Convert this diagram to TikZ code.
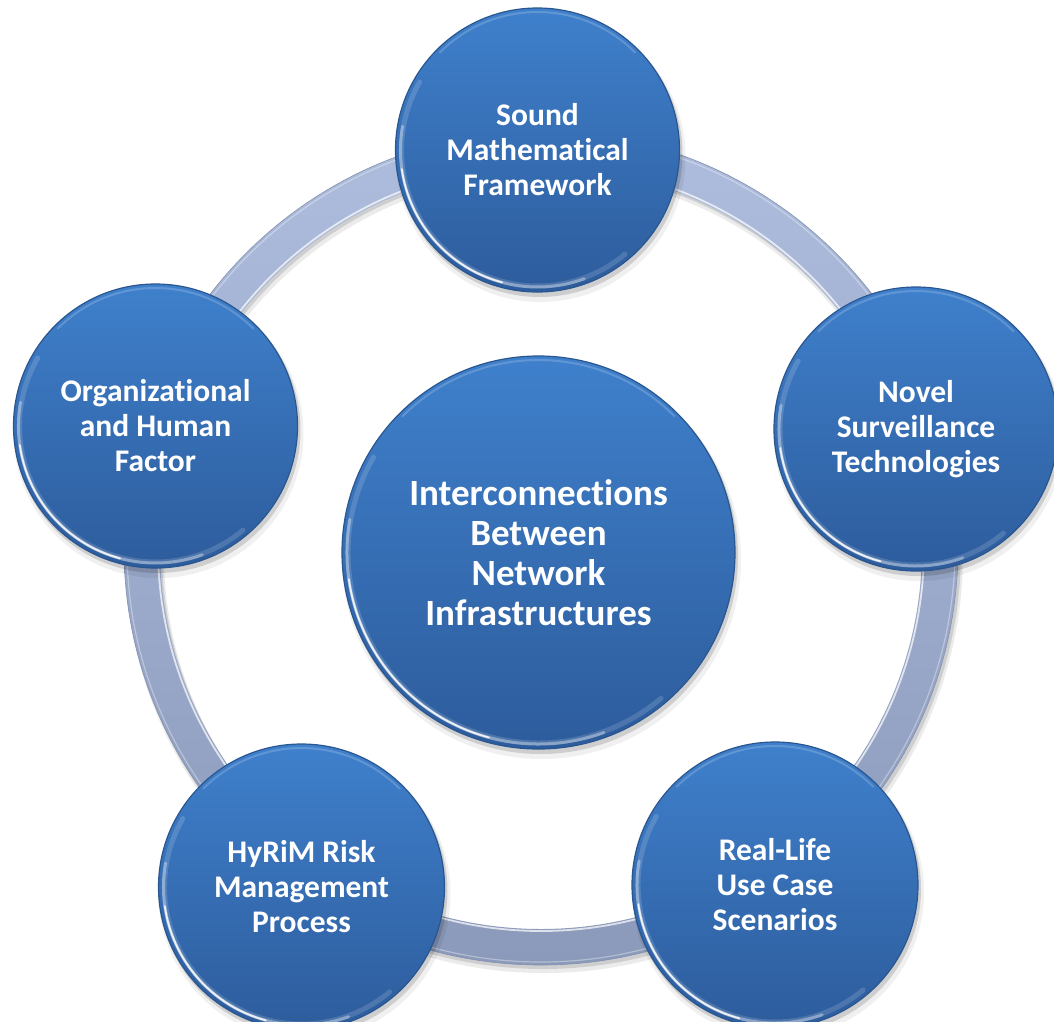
\documentclass[tikz,border=0pt]{standalone}
\usepackage{fontspec}
\setmainfont{Carlito}[Ligatures=NoCommon]
\usetikzlibrary{calc}
\definecolor{cTop}{HTML}{3F80CC}
\definecolor{cBot}{HTML}{2D5C9C}
\definecolor{cEdge}{HTML}{2A5690}
\definecolor{ringTop}{HTML}{AEBDDD}
\definecolor{ringBot}{HTML}{8B9ABA}
\definecolor{ringEdge}{HTML}{8391B0}
\tikzset{
  bubble/.style={circle, inner sep=0pt, top color=cTop, bottom color=cBot,
    draw=cEdge, line width=1.2pt, text=white, align=center},
  outerfont/.style={font=\bfseries\fontsize{31.5}{35}\selectfont},
  centerfont/.style={font=\bfseries\fontsize{37}{40}\selectfont},
  rimlight/.style={white, line cap=round}
}
\newcommand\mybubble[6]{%
  \fill[black, opacity=0.06] (#2+3,#3-7) circle[radius=#4+3];
  \fill[black, opacity=0.14] (#2+2,#3-4) circle[radius=#4+1];
  \node[bubble, minimum size={2*#4pt}, #5] (#1) at (#2,#3) {#6};
  \draw[rimlight, opacity=0.15, line width=5pt] (#2,#3) ++(150:#4-6) arc[start angle=150, end angle=310, radius=#4-6];
  \draw[rimlight, opacity=0.35, line width=3pt] (#2,#3) ++(170:#4-5) arc[start angle=170, end angle=290, radius=#4-5];
  \draw[rimlight, opacity=0.85, line width=1.8pt] (#2,#3) ++(188:#4-5) arc[start angle=188, end angle=255, radius=#4-5];
  \draw[rimlight, opacity=0.18, line width=2pt] (#2,#3) ++(45:#4-4) arc[start angle=45, end angle=135, radius=#4-4];
}
\begin{document}
\begin{tikzpicture}[x=1pt,y=1pt]
\useasboundingbox (0,0) rectangle (1054,-1021);
\clip (0,0) rectangle (1054,-1021);
% ring
\coordinate (rc) at (541,-548);
\fill[black, opacity=0.08, even odd rule] ($(rc)+(3,-6)$) circle[radius=419] ($(rc)+(3,-6)$) circle[radius=380];
\fill[black, opacity=0.12, even odd rule] ($(rc)+(2,-3)$) circle[radius=418] ($(rc)+(2,-3)$) circle[radius=381];
\path[even odd rule, top color=ringTop, bottom color=ringBot] (rc) circle[radius=417] (rc) circle[radius=381];
\draw[ringEdge, line width=0.6pt] (rc) circle[radius=417];
\draw[white, opacity=0.7, line width=1.8pt] (rc) circle[radius=383];
\draw[white, opacity=0.35, line width=1.2pt] (rc) circle[radius=414];
% outer bubbles
\mybubble{top}{537.5}{-150}{142}{outerfont}{Sound\\Mathematical\\Framework}
\mybubble{right}{916}{-429}{142}{outerfont}{Novel\\Surveillance\\Technologies}
\mybubble{left}{155.5}{-426}{142}{outerfont}{Organizational\\and Human\\Factor}
\mybubble{bleft}{301.5}{-887}{143}{outerfont}{HyRiM Risk\\Management\\Process}
\mybubble{bright}{775}{-885}{143}{outerfont}{Real-Life\\Use Case\\Scenarios}
% center bubble
\mybubble{center}{538.5}{-552.5}{196.5}{centerfont}{Interconnections\\Between\\Network\\Infrastructures}
\end{tikzpicture}
\end{document}
